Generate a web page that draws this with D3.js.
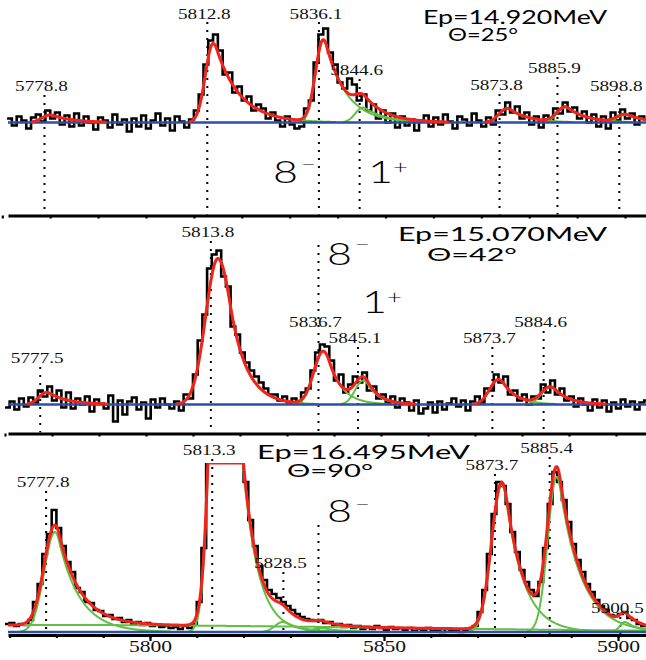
<!DOCTYPE html>
<html>
<head>
<meta charset="utf-8">
<script src="https://cdn.jsdelivr.net/npm/d3@7/dist/d3.min.js"></script>
<style>
  body { margin: 0; background: #fff; }
  svg { display: block; }
</style>
</head>
<body>
<div id="chart"></div>
<script>
// ---------- data ----------
// energy range (keV) shown by each panel's x axis (each spectrum has its own calibration)
const p1Range = [5771.19, 5904.38]
const p2Range = [5770.64, 5906.38]
const p3Range = [5769.66, 5905.98]

// histograms: 1 keV bins starting at pXStart
const p1Start = 5771
const p1Counts = [4, -3, 6, 2, -6, 5, 8, 1, 12, 4,
    10, -2, 7, -4, 9, -3, 6, 0, -7, 5,
    2, -5, 8, -2, 3, -9, 4, -4, 7, -6,
    2, 9, -3, 4, -8, 6, 1, -5, 3, 12,
    28, 58, 82, 88, 72, 48, 50, 30, 36, 22,
    26, 12, 18, 14, 4, 10, 2, -4, 6, -2,
    -6, -4, 14, 22, 60, 88, 94, 70, 58, 40,
    34, 44, 38, 22, 28, 12, 18, 4, 12, 0,
    9, -5, 6, -3, 3, -8, 2, 7, -4, 5,
    -2, 8, 1, -6, 6, 3, -3, 9, 2, -4,
    5, -2, 12, 8, 20, 10, 16, 4, 10, -2,
    6, -5, 7, 1, 14, 9, 20, 11, 15, 4,
    11, 0, 8, -4, 6, -6, 10, 2, 13, 4,
    9, -2, 6, 3]

const p2Start = 5770
const p2Counts = [-3,
    3, -5, 6, -2, 7, 2, 14, 8, 18, 4,
    14, -3, 12, -4, 6, 0, 8, -7, 5, 1,
    -4, 9, -17, 4, -10, 3, 7, -5, 2, -14,
    5, -3, 6, 0, -4, 3, -6, 10, 6, 30,
    64, 90, 136, 150, 154, 128, 118, 78, 70, 52,
    42, 34, 28, 22, 16, 10, 10, 4, 8, 2,
    6, 3, 12, 16, 34, 52, 60, 58, 44, 24,
    30, 12, 20, 28, 22, 32, 14, 18, 6, 10,
    2, 8, -3, 6, 2, -6, 4, -9, -4, 2,
    -8, 3, -5, 1, 6, -2, 4, -6, 3, 8,
    2, 16, 14, 30, 22, 28, 10, 14, 4, 10,
    0, 8, 6, 20, 12, 24, 10, 16, 4, 8,
    -2, 6, 0, -6, 5, -3, 4, -7, 2, -4,
    5, -2, 3, -5, 2, 4]

const p3Start = 5769
const p3Counts = [8,
    9, 6, 8, 7, 12, 30, 48, 78, 98, 122,
    104, 86, 70, 60, 44, 40, 30, 29, 22, 21,
    16, 17, 13, 14, 10, 12, 8, 10, 7, 9,
    6, 7, 5, 6, 4, 5, 3, 6, 4, 8,
    30, 84, 188, 350, 510, 570, 490, 360, 270, 200,
    150, 112, 86, 66, 52, 42, 38, 34, 30, 26,
    22, 18, 15, 13, 12, 11, 12, 9, 10, 7,
    8, 5, 7, 4, 6, 3, 5, 3, 6, 4,
    2, 5, 3, 4, 2, 4, 1, 3, 2, 4,
    1, 2, 0, 3, 1, 2, 0, 2, 3, 6,
    20, 42, 78, 118, 150, 146, 128, 100, 80, 62,
    50, 42, 36, 50, 84, 128, 160, 150, 132, 110,
    88, 72, 60, 48, 40, 32, 26, 22, 17, 16,
    18, 20, 14, 12, 8, 6]

// fitted components: [centre keV, height, sigma left, sigma right, exp. tail keV (0 = none)]
const p1Peaks = [
    [5780.0, 7.5, 1.7, 1.7, 4.2],
    [5814.0, 79, 1.6, 2.0, 5.0],
    [5837.0, 82, 1.6, 1.8, 4.3],
    [5845.3, 15, 1.6, 1.6, 4.5],
    [5875.4, 14, 1.7, 1.7, 4.0],
    [5887.5, 15, 1.7, 1.7, 4.0],
    [5900.0, 7.5, 1.7, 1.7, 4.0]
]
const p2Peaks = [
    [5778.9, 12, 1.7, 1.7, 4.0],
    [5815.3, 146, 2.6, 3.0, 3.5],
    [5837.7, 53, 2.0, 2.0, 2.9],
    [5846.2, 24, 1.7, 1.7, 2.6],
    [5875.0, 25, 1.9, 1.9, 3.0],
    [5886.0, 17, 1.9, 1.9, 3.2]
]
const p3Peaks = [
    [5780.0, 7, 70, 70, 0],
    [5779.7, 100, 2.3, 2.0, 4.6],
    [5815.4, 567, 1.92, 1.92, 3.2],
    [5828.4, 10, 1.7, 1.7, 4.0],
    [5836.5, 4, 1.7, 1.7, 4.0],
    [5875.15, 147, 2.14, 2.14, 3.85],
    [5886.9, 155, 1.9, 1.9, 4.7],
    [5901.5, 10, 1.1, 1.1, 3.0]
]

// marked levels (keV) and their labels
const p1Lines = [5778.8, 5812.8, 5836.1, 5844.6, 5873.8, 5885.9, 5898.8]
const p1Text = ["5778.8", "5812.8", "5836.1", "5844.6", "5873.8", "5885.9", "5898.8"]
const p2Lines = [5777.5, 5813.8, 5836.7, 5845.1, 5873.7, 5884.6]
const p2Text = ["5777.5", "5813.8", "5836.7", "5845.1", "5873.7", "5884.6"]
const p3Lines = [5777.8, 5813.3, 5828.5, 5836.0, 5873.7, 5885.4, 5900.5]
const p3Text = ["5777.8", "5813.3", "5828.5", "", "5873.7", "5885.4", "5900.5"]

const p1Title = ["Ep=14.920MeV", "\u0398=25\u00b0"]
const p2Title = ["Ep=15.070MeV", "\u0398=42\u00b0"]
const p3Title = ["Ep=16.495MeV", "\u0398=90\u00b0"]

const p1Spins = [["8", "\u2212"], ["1", "+"]]
const p2Spins = [["8", "\u2212"], ["1", "+"]]
const p3Spins = [["8", "\u2212"]]

const tickLabels = [5800, 5850, 5900]

// ---------- layout ----------
const width = 646
const height = 660
const xLeft = 8
const xRight = 646

// spinPos: [x, baseline, sign gap, sign rise]
const layout = [
    {
        axis: 215.5, zero: 122.5, clipTop: 0,
        labelY: [91, 18.5, 18.5, 75, 90, 73, 91],
        lineTop: [95, 22, 22, 79, 94, 77, 95],
        titlePos: [[423, 24, 184], [448, 41, 70]],
        spinPos: [[273, 183, 3, 12], [368, 183, 0, 9]]
    },
    {
        axis: 433.5, zero: 404.5, clipTop: 216,
        labelY: [363, 237, 327, 343, 343, 327],
        lineTop: [367, 241, 245, 347, 347, 331],
        titlePos: [[398, 241, 209], [427, 261, 90]],
        spinPos: [[327, 265, 3, 14], [362, 313, 0, 9]]
    },
    {
        axis: 635, zero: 632, clipTop: 463,
        labelY: [487, 455, 568, 0, 470, 453, 613],
        lineTop: [491, 459, 572, 525, 474, 457, 617],
        titlePos: [[257, 459, 213], [287, 477, 86]],
        spinPos: [[327, 522, 3, 11]]
    }
]

const panels = [
    { range: p1Range, start: p1Start, counts: p1Counts, peaks: p1Peaks, lines: p1Lines, text: p1Text, title: p1Title, spins: p1Spins },
    { range: p2Range, start: p2Start, counts: p2Counts, peaks: p2Peaks, lines: p2Lines, text: p2Text, title: p2Title, spins: p2Spins },
    { range: p3Range, start: p3Start, counts: p3Counts, peaks: p3Peaks, lines: p3Lines, text: p3Text, title: p3Title, spins: p3Spins }
]

const colors = { data: "#000", fit: "#f2231b", part: "#62bf43", base: "#2c4ea4" }

// gaussian with optional exponential tail on the high side
function shape(v, p) {
    const [mu, h, sl, sr, tau] = p
    const d = v - mu
    if (d <= 0) return h * Math.exp(-0.5 * (d / sl) ** 2)
    const z = d / sr
    if (!tau) return h * Math.exp(-0.5 * z * z)
    const k = sr / tau
    if (z <= k) return h * Math.exp(-0.5 * z * z)
    return h * Math.exp(k * k / 2 - k * z)
}

const svg = d3.select("#chart").append("svg")
    .attr("width", width)
    .attr("height", height)

panels.forEach((P, i) => {
    const L = layout[i]
    const g = svg.append("g")

    const xScale = d3.scaleLinear().domain(P.range).range([xLeft, xRight])
    const yScale = d3.scaleLinear().domain([0, 100]).range([L.zero, L.zero - 100])
    const yMax = yScale.invert(L.clipTop)

    g.append("clipPath").attr("id", "clip" + i)
        .append("rect")
        .attr("x", 0).attr("y", L.clipTop)
        .attr("width", width).attr("height", L.axis - L.clipTop)

    // dotted level markers
    g.selectAll(".level")
        .data(P.lines)
        .join("line")
        .attr("class", "level")
        .attr("x1", d => xScale(d)).attr("x2", d => xScale(d))
        .attr("y1", (d, j) => L.lineTop[j])
        .attr("y2", L.axis - 1)
        .attr("stroke", "#000")
        .attr("stroke-width", 2)
        .attr("stroke-dasharray", "2,6")

    const plot = g.append("g").attr("clip-path", `url(#clip${i})`)

    // histogram
    const hist = P.counts.map((c, j) => [P.start + j, c])
    hist.push([P.start + P.counts.length, P.counts[P.counts.length - 1]])
    plot.append("path")
        .datum(hist)
        .attr("fill", "none")
        .attr("stroke", colors.data)
        .attr("stroke-width", 2.6)
        .attr("d", d3.line()
            .x(d => xScale(d[0]))
            .y(d => yScale(Math.min(d[1], yMax + 5)))
            .curve(d3.curveStepAfter))

    const grid = d3.range(P.range[0], P.range[1] + 0.1, 0.1)
    const curve = d3.line()
        .defined(d => d[1] > 0.5)
        .x(d => xScale(d[0]))
        .y(d => yScale(Math.min(d[1], yMax)))

    // components
    plot.selectAll(".part")
        .data(P.peaks)
        .join("path")
        .attr("class", "part")
        .attr("fill", "none")
        .attr("stroke", colors.part)
        .attr("stroke-width", 2)
        .attr("d", p => curve(grid.map(v => [v, shape(v, p)])))

    // baseline
    plot.append("line")
        .attr("x1", xLeft).attr("x2", xRight)
        .attr("y1", yScale(0)).attr("y2", yScale(0))
        .attr("stroke", colors.base)
        .attr("stroke-width", 2.6)

    // total fit
    plot.append("path")
        .attr("fill", "none")
        .attr("stroke", colors.fit)
        .attr("stroke-width", 3)
        .attr("stroke-linejoin", "round")
        .attr("d", curve(grid.map(v => [v, d3.sum(P.peaks, p => shape(v, p))])))

    // energy labels
    g.selectAll(".elabel")
        .data(P.lines)
        .join("text")
        .attr("class", "elabel")
        .attr("transform", (d, j) => `translate(${xScale(d) - 3},${L.labelY[j]}) scale(1.28,1)`)
        .attr("text-anchor", "middle")
        .attr("font-family", "'Liberation Serif', 'Times New Roman', serif")
        .attr("font-size", "15px")
        .attr("fill", "#111")
        .text((d, j) => P.text[j])

    // Ep / angle (one two-line text)
    const title = g.append("text")
        .attr("font-family", "Lato, 'DejaVu Sans', sans-serif")
        .attr("fill", "#000")
    P.title.forEach((t, j) => {
        const [tx, ty, tw] = L.titlePos[j]
        title.append("tspan")
            .attr("x", tx).attr("y", ty)
            .attr("textLength", tw)
            .attr("lengthAdjust", "spacingAndGlyphs")
            .attr("font-size", j === 0 ? "20px" : "18px")
            .text(t)
    })

    // spin / parity labels
    P.spins.forEach((s, j) => {
        const [mx, my, gap, rise] = L.spinPos[j]
        const t = g.append("text")
            .attr("transform", `translate(${mx},${my}) scale(1.35,1)`)
            .attr("font-family", "Lato, 'Liberation Sans', sans-serif")
            .attr("font-weight", 300)
        t.append("tspan")
            .attr("x", 0).attr("y", 0)
            .attr("font-size", "32px")
            .text(s[0])
        t.append("tspan")
            .attr("dx", gap / 1.35)
            .attr("dy", -rise)
            .attr("font-size", "19px")
            .text(s[1])
    })

    // axis
    const axis = g.append("g")
        .attr("transform", `translate(0,${L.axis})`)
        .call(d3.axisBottom(xScale)
            .tickValues(d3.range(5770, 5910, 10))
            .tickSize(3)
            .tickSizeOuter(0)
            .tickFormat(""))
    axis.select(".domain").attr("stroke", "#000").attr("stroke-width", 3)
    axis.selectAll(".tick line").attr("stroke", "#000").attr("stroke-width", 2.2)

    if (i === 2) {
        const major = g.append("g")
            .attr("transform", `translate(0,${L.axis})`)
            .call(d3.axisBottom(xScale)
                .tickValues(tickLabels)
                .tickSize(6)
                .tickSizeOuter(0)
                .tickFormat(d3.format("d")))
        major.select(".domain").remove()
        major.selectAll(".tick line").attr("stroke", "#000").attr("stroke-width", 2.2)
        major.selectAll(".tick text")
            .attr("y", 17.5)
            .attr("dy", 0)
            .attr("transform", "scale(1.35,1)")
            .attr("font-family", "'Liberation Serif', 'Times New Roman', serif")
            .attr("font-size", "16px")
            .attr("fill", "#111")
    }
})
</script>
</body>
</html>
